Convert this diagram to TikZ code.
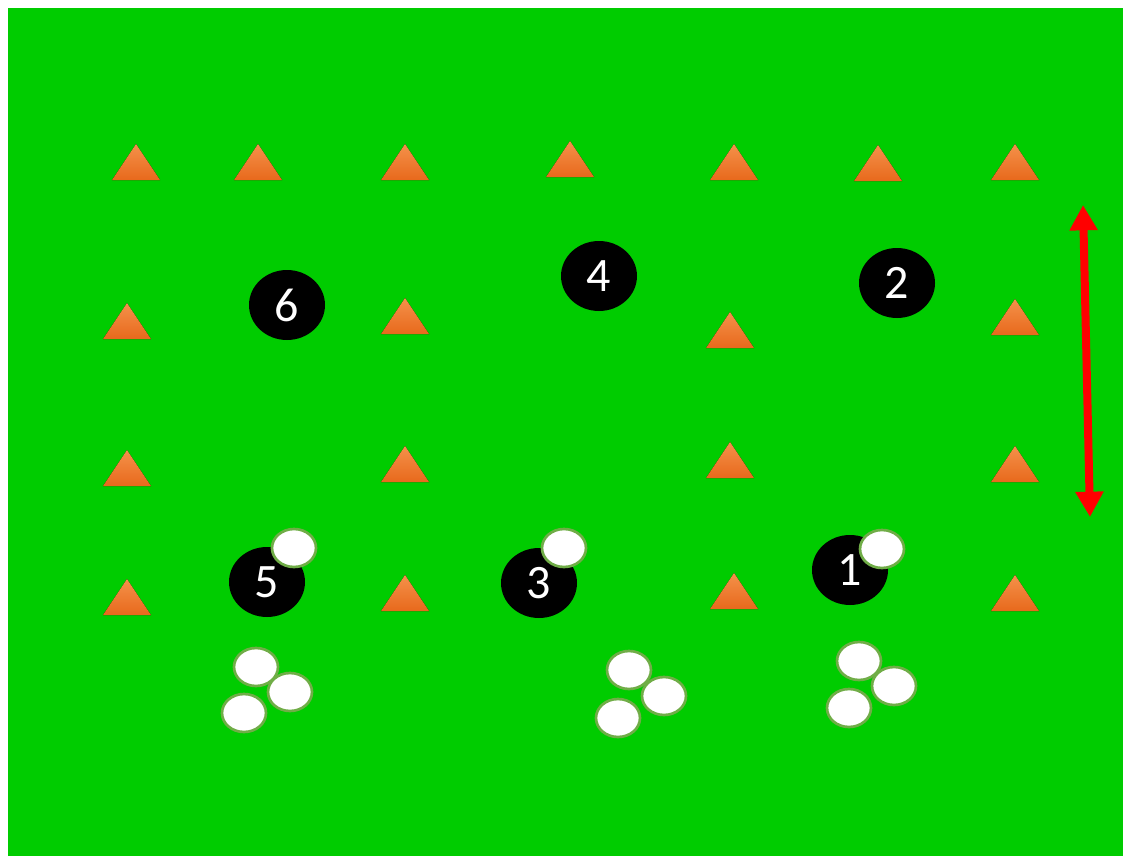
\documentclass[tikz,border=0pt]{standalone}
\usepackage{fontspec}
\setmainfont{Carlito}
\usetikzlibrary{arrows.meta,shapes.geometric}
\definecolor{cPitch}{HTML}{00CC00}
\definecolor{cConeTop}{HTML}{F4914A}
\definecolor{cConeBot}{HTML}{E8691C}
\definecolor{cBallRim}{HTML}{70AD47}
\definecolor{cRun}{HTML}{FF0000}
\tikzset{
  pitch/.style  = {fill=cPitch, draw=none},
  cone/.style   = {top color=cConeTop, bottom color=cConeBot, draw=none},
  player/.style = {ellipse, fill=black, text=white, inner sep=0pt,
                   minimum width=57pt, minimum height=52.5pt,
                   font=\fontsize{36}{36}\selectfont},
  ball/.style   = {ellipse, fill=white, draw=cBallRim, line width=2pt,
                   inner sep=0pt, minimum width=33pt, minimum height=28.5pt},
  run/.style    = {draw=cRun, line width=6pt,
                   {Triangle[length=19pt,width=20pt]}-{Triangle[length=19pt,width=20pt]}},
}

\begin{document}
\begin{tikzpicture}[x=0.75pt, y=-0.75pt]
  \useasboundingbox (0,0) rectangle (1123,856);
  \fill[white] (0,0) rectangle (1123,856);
  \fill[pitch] (8,8) rectangle (1123,856);
  % cones (apex x / base y)
  \foreach \cx/\cy in {136/180, 258/180, 405/180, 570/177, 734/180, 878/181, 1015/180,
                       127/339, 405/334, 730/348, 1015/335,
                       127/486, 405/482, 730/478, 1015/482,
                       127/615, 405/611, 734/609, 1015/611}
    \fill[cone] (\cx-24,\cy) -- (\cx,\cy-36) -- (\cx+24,\cy) -- cycle;
  % players
  \node[player] (p6) at (287,305) {6};
  \node[player] (p4) at (599,276) {4};
  \node[player] (p2) at (897,283) {2};
  \node[player] (p5) at (267,582) {5};
  \node[player] (p3) at (539,583) {3};
  \node[player] (p1) at (850,570) {1};
  % balls at feet
  \node[ball] (b5) at (294,548) {};
  \node[ball] (b3) at (564,548) {};
  \node[ball] (b1) at (882,549) {};
  % spare balls
  \node[ball] (s5a) at (256,667) {};
  \node[ball] (s5b) at (290,692) {};
  \node[ball] (s5c) at (244,713) {};
  \node[ball] (s3a) at (629,670) {};
  \node[ball] (s3b) at (664,696) {};
  \node[ball] (s3c) at (618,718) {};
  \node[ball] (s1a) at (859,661) {};
  \node[ball] (s1b) at (894,686) {};
  \node[ball] (s1c) at (849,708) {};
  % run line
  \coordinate (runTop) at (1083,205);
  \coordinate (runBot) at (1090,517);
  \draw[run] (runTop) -- (runBot);
\end{tikzpicture}
\end{document}
